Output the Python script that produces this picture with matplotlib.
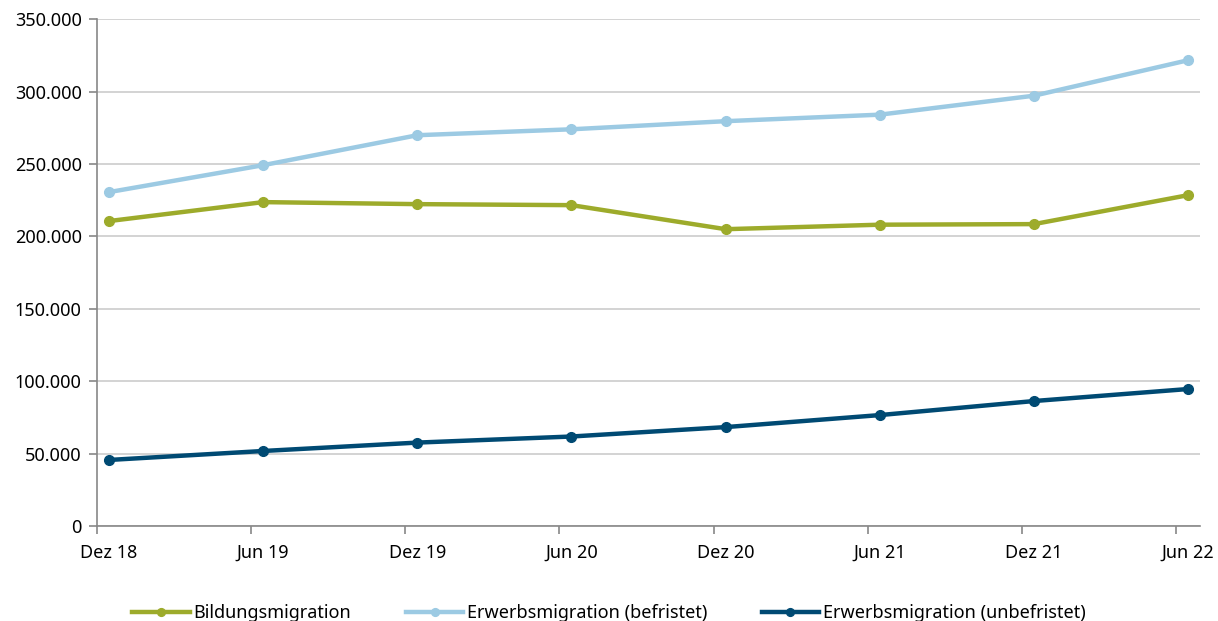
import matplotlib
matplotlib.use("Agg")
import matplotlib.pyplot as plt
from matplotlib.ticker import FuncFormatter, FixedLocator
import numpy as np

# Daten
perioden = ['Dez 18', 'Jun 19', 'Dez 19', 'Jun 20', 'Dez 20', 'Jun 21', 'Dez 21', 'Jun 22']
bildung = [210600, 223700, 222300, 221600, 205000, 208100, 208500, 228500]
erwerb_befr = [230600, 249200, 269900, 274000, 279600, 284100, 297200, 321700]
erwerb_unbefr = [45600, 51800, 57600, 61800, 68300, 76600, 86300, 94600]

plt.rcParams['font.family'] = ['Noto Sans', 'DejaVu Sans']

fig = plt.figure(figsize=(12.18, 6.21), dpi=100)
ax = fig.add_axes([0.0796, 0.153, 0.906, 0.816])

x = np.arange(len(perioden))
ax.plot(x, bildung, color='#9dab2b', lw=3.2, marker='o', ms=7, label='Bildungsmigration', zorder=3)
ax.plot(x, erwerb_befr, color='#9ccae3', lw=3.2, marker='o', ms=7, label='Erwerbsmigration (befristet)', zorder=3)
ax.plot(x, erwerb_unbefr, color='#004a73', lw=3.2, marker='o', ms=7, label='Erwerbsmigration (unbefristet)', zorder=3)

ax.set_xlim(-0.078, 7.08)
ax.set_ylim(0, 350000)
ax.set_yticks(np.arange(0, 350001, 50000))
ax.yaxis.set_major_formatter(FuncFormatter(lambda v, p: f'{int(v):,}'.replace(',', '.')))
ax.grid(axis='y', color='#cccccc', lw=1.2)
ax.set_axisbelow(True)

# Ticks zwischen den Kategorien, Beschriftung mittig am Punkt
ax.xaxis.set_major_locator(FixedLocator(x - 0.078))
ax.xaxis.set_minor_locator(FixedLocator(x))
ax.set_xticklabels([])
ax.set_xticklabels(perioden, minor=True)
ax.tick_params(axis='x', which='minor', length=0, pad=13, labelsize=13)
ax.tick_params(axis='x', which='major', length=6, color='#888888', width=1.2)
ax.tick_params(axis='y', length=6, color='#888888', width=1.2, labelsize=13, pad=5)

for s in ['top', 'right']:
    ax.spines[s].set_visible(False)
for s in ['left', 'bottom']:
    ax.spines[s].set_color('#888888')
    ax.spines[s].set_linewidth(1.2)

fig.legend(loc='lower center', bbox_to_anchor=(0.5, -0.028), ncol=3, frameon=False,
           fontsize=13, handlelength=3.2, columnspacing=3, handletextpad=0.2, markerscale=0.8)

fig.savefig('out.png', dpi=100)
